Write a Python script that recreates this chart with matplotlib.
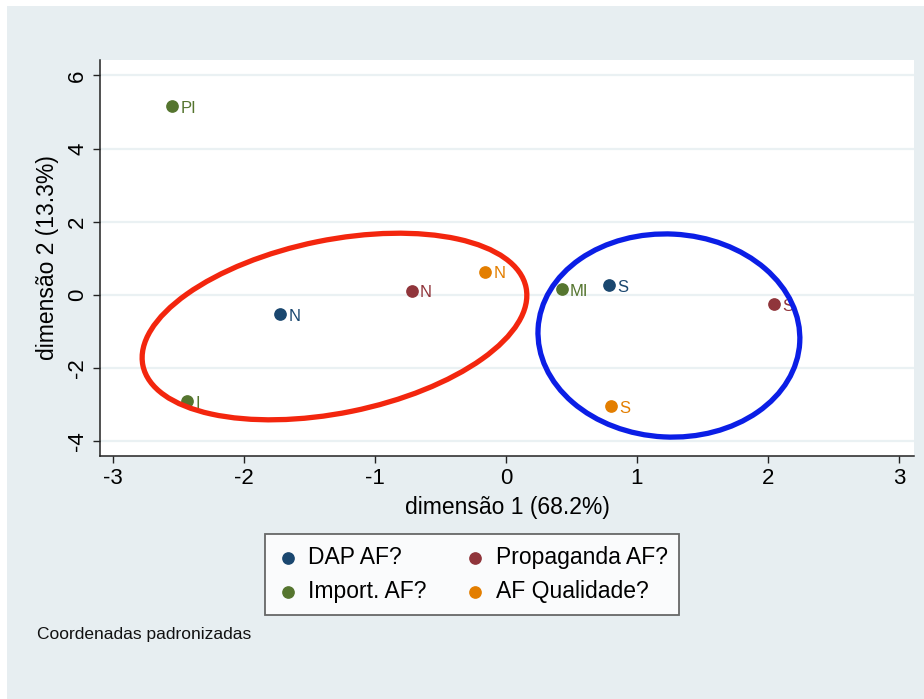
import matplotlib.pyplot as plt
from matplotlib.patches import Ellipse, Rectangle
from matplotlib.transforms import ScaledTranslation

plt.rcParams['font.family'] = ['Liberation Sans', 'DejaVu Sans']
plt.rcParams['axes.unicode_minus'] = False

# ---------- Dados (coordenadas padronizadas) ----------
dap_x = [-1.725, 0.786]
dap_y = [-0.527, 0.265]
dap_lab = ["N", "S"]

prop_x = [-0.720, 2.046]
prop_y = [0.117, -0.254]
prop_lab = ["N", "S"]

imp_x = [-2.55, -2.437, 0.425]
imp_y = [5.16, -2.896, 0.156]
imp_lab = ["PI", "I", "MI"]

qual_x = [-0.160, 0.802]
qual_y = [0.637, -3.033]
qual_lab = ["N", "S"]

x_ticks = [-3, -2, -1, 0, 1, 2, 3]
y_ticks = [-4, -2, 0, 2, 4, 6]

BG = "#e7eef1"

# ---------- Figura ----------
fig = plt.figure(figsize=(9.24, 6.99), dpi=100)
fig.patch.set_facecolor("white")
fig.patches.append(Rectangle((7 / 924, 0), 1, 693 / 699, transform=fig.transFigure,
                             facecolor=BG, edgecolor="none", zorder=-10))

ax = fig.add_axes([100 / 924, 243 / 699, 814 / 924, 396 / 699])
ax.set_facecolor("white")
ax.set_xlim(-3.099, 3.115)
ax.set_ylim(-4.399, 6.421)

for s in ["top", "right"]:
    ax.spines[s].set_visible(False)
for s in ["left", "bottom"]:
    ax.spines[s].set_color("#222222")
    ax.spines[s].set_linewidth(1.1)

ax.set_xticks(x_ticks)
ax.set_yticks(y_ticks)
ax.tick_params(axis="both", length=5, width=1, color="#222222", labelsize=16)
for lab in ax.get_yticklabels():
    lab.set_rotation(90)
    lab.set_va("center")
ax.yaxis.grid(True, color="#eaf1f3", linewidth=1.6)
ax.set_axisbelow(True)

ax.set_xlabel("dimensão 1 (68.2%)", fontsize=16.5, labelpad=5)
ax.set_ylabel("dimensão 2 (13.3%)", fontsize=16.5, labelpad=6)

grupos = [
    (dap_x, dap_y, dap_lab, "#1a476f", "DAP AF?"),
    (prop_x, prop_y, prop_lab, "#90353b", "Propaganda AF?"),
    (imp_x, imp_y, imp_lab, "#55752f", "Import. AF?"),
    (qual_x, qual_y, qual_lab, "#e37e00", "AF Qualidade?"),
]
handles = {}
for xs, ys, labs, cor, nome in grupos:
    h = ax.scatter(xs, ys, s=66, color=cor, zorder=3, label=nome)
    handles[nome] = h
    for x, y, t in zip(xs, ys, labs):
        ax.annotate(t, (x, y), xytext=(6, -1.5), textcoords="offset points",
                    ha="left", va="center", color=cor, fontsize=12, zorder=3)

# elipses desenhadas à mão (tamanho em polegadas, centro em dados)
def _elipse(cx, cy, w_in, h_in, ang, cor):
    tr = fig.dpi_scale_trans + ScaledTranslation(cx, cy, ax.transData)
    e = Ellipse((0, 0), w_in, h_in, angle=ang, transform=tr, fill=False,
                edgecolor=cor, linewidth=3.8, zorder=5, clip_on=False)
    ax.add_patch(e)

_elipse(-1.309, -0.861, 3.91, 1.73, 11.5, "#f3260e")
_elipse(1.244, -1.107, 2.62, 2.03, -3, "#0b1ee6")

ordem = ["DAP AF?", "Import. AF?", "Propaganda AF?", "AF Qualidade?"]
leg = fig.legend([handles[k] for k in ordem], ordem, ncol=2, loc="center",
                 bbox_to_anchor=(472 / 924, 1 - 574.5 / 699), fontsize=16.5,
                 frameon=True, fancybox=False, handletextpad=0.4, handlelength=1.0,
                 columnspacing=1.6, labelspacing=0.5, borderpad=0.5)
leg.get_frame().set_edgecolor("#444444")
leg.get_frame().set_linewidth(1.3)

fig.text(37 / 924, 1 - 635 / 699, "Coordenadas padronizadas", fontsize=12.5,
         ha="left", va="center", color="#111111")

fig.savefig("out.png", dpi=100, facecolor=fig.get_facecolor())
